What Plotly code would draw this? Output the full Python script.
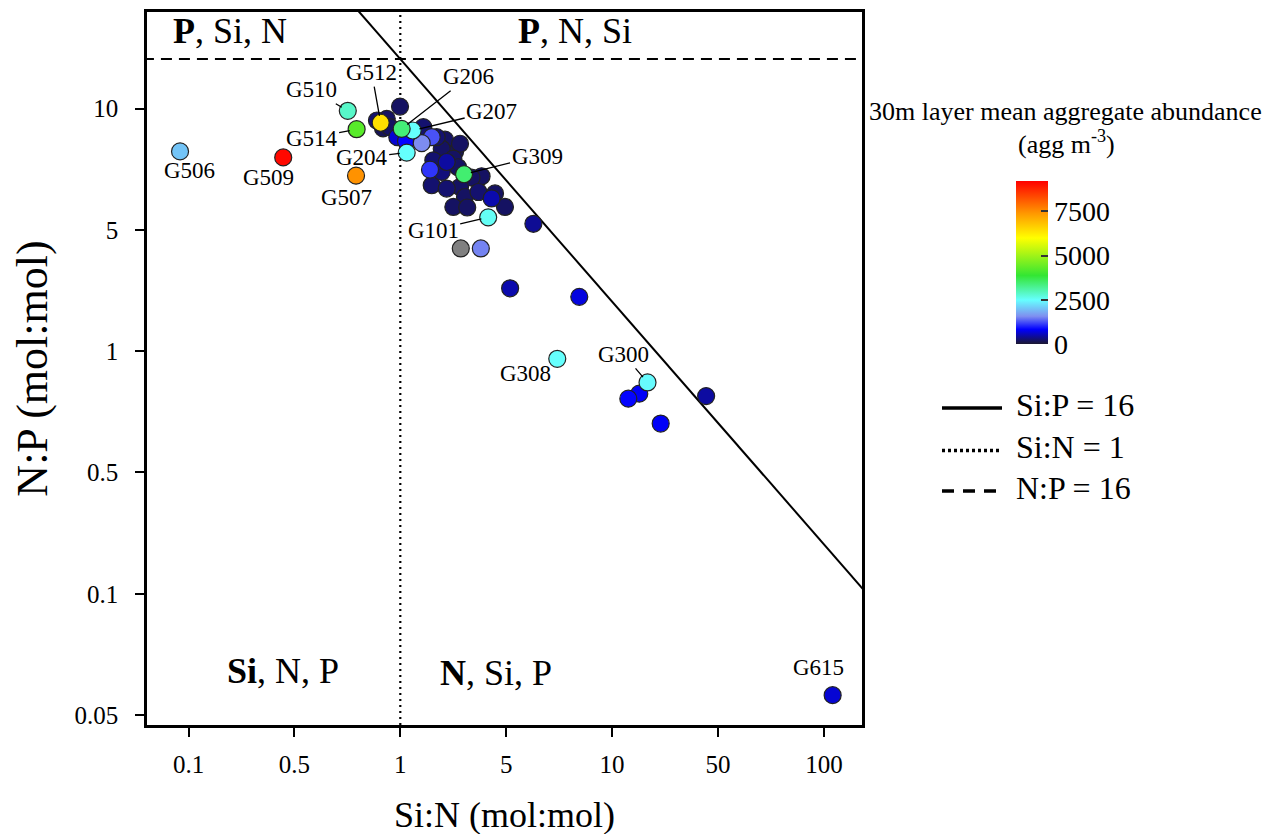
import numpy as np
import plotly.graph_objects as go

# ---------------- data ----------------
labeled_names = ["G506", "G509", "G507", "G510", "G514", "G512", "G204", "G206",
                 "G207", "G309", "G101", "G308", "G300", "G701", "G700", "G615"]
labeled_si_n = [0.0912, 0.280, 0.618, 0.565, 0.622, 0.808, 1.072, 1.015,
                1.144, 2.00, 2.60, 5.51, 14.7, 0.0635, 0.0635, 110.0]
labeled_n_p = [6.66, 6.29, 5.29, 9.79, 8.22, 8.74, 6.58, 8.25,
               8.12, 5.36, 3.56, 0.930, 0.743, 0.662, 0.135, 0.0382]
labeled_agg = [2000, 9100, 7450, 2850, 4250, 6400, 2500, 3400,
               2500, 3450, 2550, 2500, 2450, 420, 120, 650]

other_si_n = [3.30, 7.00, 13.44, 11.93, 16.96, 27.8, 2.40, 4.25,
              0.997, 0.776, 0.863, 0.894, 0.829, 0.968, 1.064, 1.284,
              1.407, 1.262, 1.626, 1.485, 1.914, 1.813, 1.569, 1.432,
              1.656, 1.780, 1.381, 1.569, 2.42, 2.17, 1.407, 1.656,
              1.914, 2.34, 2.80, 2.02, 2.70, 1.780, 2.07, 3.12, 1.873]
other_n_p = [1.816, 1.675, 0.668, 0.637, 0.503, 0.653, 2.65, 3.35,
             10.19, 8.93, 9.07, 8.38, 8.28, 7.62, 7.34, 8.38,
             7.62, 7.20, 7.44, 7.62, 7.16, 6.62, 6.83, 6.12,
             6.02, 6.22, 5.60, 5.48, 5.26, 5.19, 4.83, 4.68,
             4.75, 4.53, 4.47, 4.32, 4.26, 3.93, 3.91, 3.93, 5.73]
other_agg = [500, 700, 800, 850, 800, 450, 1500, 400,
             200, 250, 200, 200, 150, 650, 850, 250,
             1250, 1550, 200, 250, 200, 150, 200, 250,
             450, 200, 1100, 300, 200, 200, 250, 250,
             200, 250, 200, 200, 500, 200, 200, 200, 200]

# station without abundance value (drawn grey)
na_si_n = [1.93]
na_n_p = [2.65]

xtick_labels = ["0.1", "0.5", "1", "5", "10", "50", "100"]
ytick_labels = ["0.05", "0.1", "0.5", "1", "5", "10"]
cbar_ticks = [0, 2500, 5000, 7500]
cbar_max = 9200

SI_P_RATIO = 16
SI_N_RATIO = 1
N_P_RATIO = 16
legend_labels = ["Si:P = 16", "Si:N = 1", "N:P = 16"]

quadrant_texts = ["<b>P</b>, Si, N", "<b>P</b>, N, Si", "<b>Si</b>, N, P", "<b>N</b>, Si, P"]

# ---------------- styling ----------------
FONT = "Liberation Serif"
colorscale = [
    [0.00, "#1c1830"],
    [0.09, "#0000ff"],
    [0.17, "#7f8ff0"],
    [0.27, "#66ffff"],
    [0.42, "#33e633"],
    [0.65, "#ffff00"],
    [0.80, "#ff9900"],
    [1.00, "#ff0000"],
]

# label offsets (pixels, label centre relative to point) and whether a leader line is drawn
label_style = {
    "G506": (9, 19, False), "G509": (-15, 20, False), "G507": (-10, 22, False),
    "G510": (-36, -21, True), "G514": (-45, 9, True), "G512": (-9, -50, True),
    "G204": (-45, 5, True), "G206": (67, -52, True), "G207": (79, -19, True),
    "G309": (73, -18, True), "G101": (-55, 13, True), "G308": (-32, 15, False),
    "G300": (-24, -28, True), "G701": (46, -2, False), "G700": (43, -1, False),
    "G615": (-14, -28, False),
}

# plot area as seen on screen (page has an 8px body margin)
W, H = 1273, 834
OFF = 8
Ls, Rs, Ts, Bs = 147, 862, 9, 725


def px(xs):
    return (xs - Ls) / (Rs - Ls)


def py(ys):
    return (Bs - ys) / (Bs - Ts)


fig = go.Figure()

# reference lines (clipped by the plot area)
x_ext = np.array([1e-3, 1e4])
fig.add_trace(go.Scatter(x=x_ext, y=SI_P_RATIO / x_ext, mode="lines",
                         line=dict(color="black", width=2), showlegend=False, hoverinfo="skip"))
fig.add_trace(go.Scatter(x=[SI_N_RATIO, SI_N_RATIO], y=[1e-3, 1e4], mode="lines",
                         line=dict(color="black", width=2.2, dash="2px,4px"),
                         showlegend=False, hoverinfo="skip"))
fig.add_trace(go.Scatter(x=x_ext, y=[N_P_RATIO, N_P_RATIO], mode="lines",
                         line=dict(color="black", width=2, dash="11px,7px"),
                         showlegend=False, hoverinfo="skip"))

# points
all_x = np.array(other_si_n + labeled_si_n)
all_y = np.array(other_n_p + labeled_n_p)
all_c = np.array(other_agg + labeled_agg)
order = np.argsort(all_c, kind="stable")

fig.add_trace(go.Scatter(
    x=na_si_n, y=na_n_p, mode="markers",
    marker=dict(size=17, color="#808080", line=dict(color="#222222", width=1.2)),
    showlegend=False, cliponaxis=False))

fig.add_trace(go.Scatter(
    x=all_x[order], y=all_y[order], mode="markers", cliponaxis=False,
    marker=dict(size=17, color=all_c[order], colorscale=colorscale, cmin=0, cmax=cbar_max,
                line=dict(color="#222222", width=1.2),
                colorbar=dict(
                    x=px(1016), xanchor="left", xpad=0,
                    y=py(260.8), yanchor="middle", ypad=0,
                    len=163, lenmode="pixels", thickness=32, outlinewidth=0,
                    tickvals=cbar_ticks, ticks="inside", ticklen=7, tickwidth=1.5,
                    tickcolor="#333333", tickprefix="\u2002",
                    tickfont=dict(family=FONT, size=28, color="black"),
                )),
    showlegend=False))

annotations = []
for name, xv, yv in zip(labeled_names, labeled_si_n, labeled_n_p):
    dx, dy, line = label_style[name]
    if line:
        annotations.append(dict(x=np.log10(xv), y=np.log10(yv), xref="x", yref="y",
                                text=name, showarrow=True, arrowhead=0, arrowwidth=1.3,
                                arrowcolor="black", ax=dx, ay=dy, standoff=7,
                                font=dict(family=FONT, size=23, color="black")))
    else:
        annotations.append(dict(x=np.log10(xv), y=np.log10(yv), xref="x", yref="y",
                                text=name, showarrow=False, xshift=dx, yshift=-dy,
                                font=dict(family=FONT, size=23, color="black")))

# quadrant labels (screen pixel centres of the text box)
quad_pos = [(230, 28), (575, 28), (283, 671), (496, 673)]
for txt, (qx, qy) in zip(quadrant_texts, quad_pos):
    annotations.append(dict(x=px(qx), y=py(qy), xref="paper", yref="paper",
                            text=txt, showarrow=False, xanchor="center", yanchor="middle",
                            font=dict(family=FONT, size=36, color="black")))

# colorbar title
annotations.append(dict(x=px(1065.5), y=py(109), xref="paper", yref="paper",
                        text="30m layer mean aggregate abundance", showarrow=False,
                        xanchor="center", yanchor="middle",
                        font=dict(family=FONT, size=26, color="black")))
annotations.append(dict(x=px(1066), y=py(140), xref="paper", yref="paper",
                        text="(agg m<sup>-3</sup>)", showarrow=False,
                        xanchor="center", yanchor="middle",
                        font=dict(family=FONT, size=26, color="black")))

# manual legend for the three reference lines
shapes = []
leg_rows = [406.7, 449.3, 490]
leg_dash = ["solid", "3px,3px", "12px,9px"]
for lab, ry, dsh in zip(legend_labels, leg_rows, leg_dash):
    shapes.append(dict(type="line", xref="paper", yref="paper",
                       x0=px(942), x1=px(1002), y0=py(ry), y1=py(ry),
                       line=dict(color="black", width=3.5, dash=dsh)))
    annotations.append(dict(x=px(1014), y=py(ry - 3), xref="paper", yref="paper",
                            text=lab, showarrow=False, xanchor="left", yanchor="middle",
                            font=dict(family=FONT, size=32, color="black")))

axis_common = dict(type="log", showgrid=False, zeroline=False, showline=True, mirror=True,
                   linecolor="black", linewidth=2.5, ticks="outside", ticklen=9, tickwidth=2,
                   tickcolor="black", tickfont=dict(family=FONT, size=25, color="black"))

fig.update_layout(
    width=W, height=H,
    margin=dict(l=Ls - OFF, r=W - (Rs - OFF), t=Ts - OFF, b=H - (Bs - OFF)),
    paper_bgcolor="white", plot_bgcolor="white",
    font=dict(family=FONT, color="black"),
    showlegend=False,
    xaxis=dict(axis_common, range=[-1.196, 2.180],
               tickvals=[10 ** (-1 + 0.5 * i) for i in range(len(xtick_labels))],
               ticktext=xtick_labels, ticklabelstandoff=6,
               title=dict(text="Si:N (mol:mol)", standoff=26,
                          font=dict(family=FONT, size=36, color="black"))),
    yaxis=dict(axis_common, range=[-1.541, 1.398],
               tickvals=[10 ** (-1.5 + 0.5 * i) for i in range(len(ytick_labels))],
               ticktext=ytick_labels, ticklabelstandoff=12,
               title=dict(text="N:P (mol:mol)", standoff=27,
                          font=dict(family=FONT, size=44, color="black"))),
    annotations=annotations,
    shapes=shapes,
)

fig.write_html("out.html")
